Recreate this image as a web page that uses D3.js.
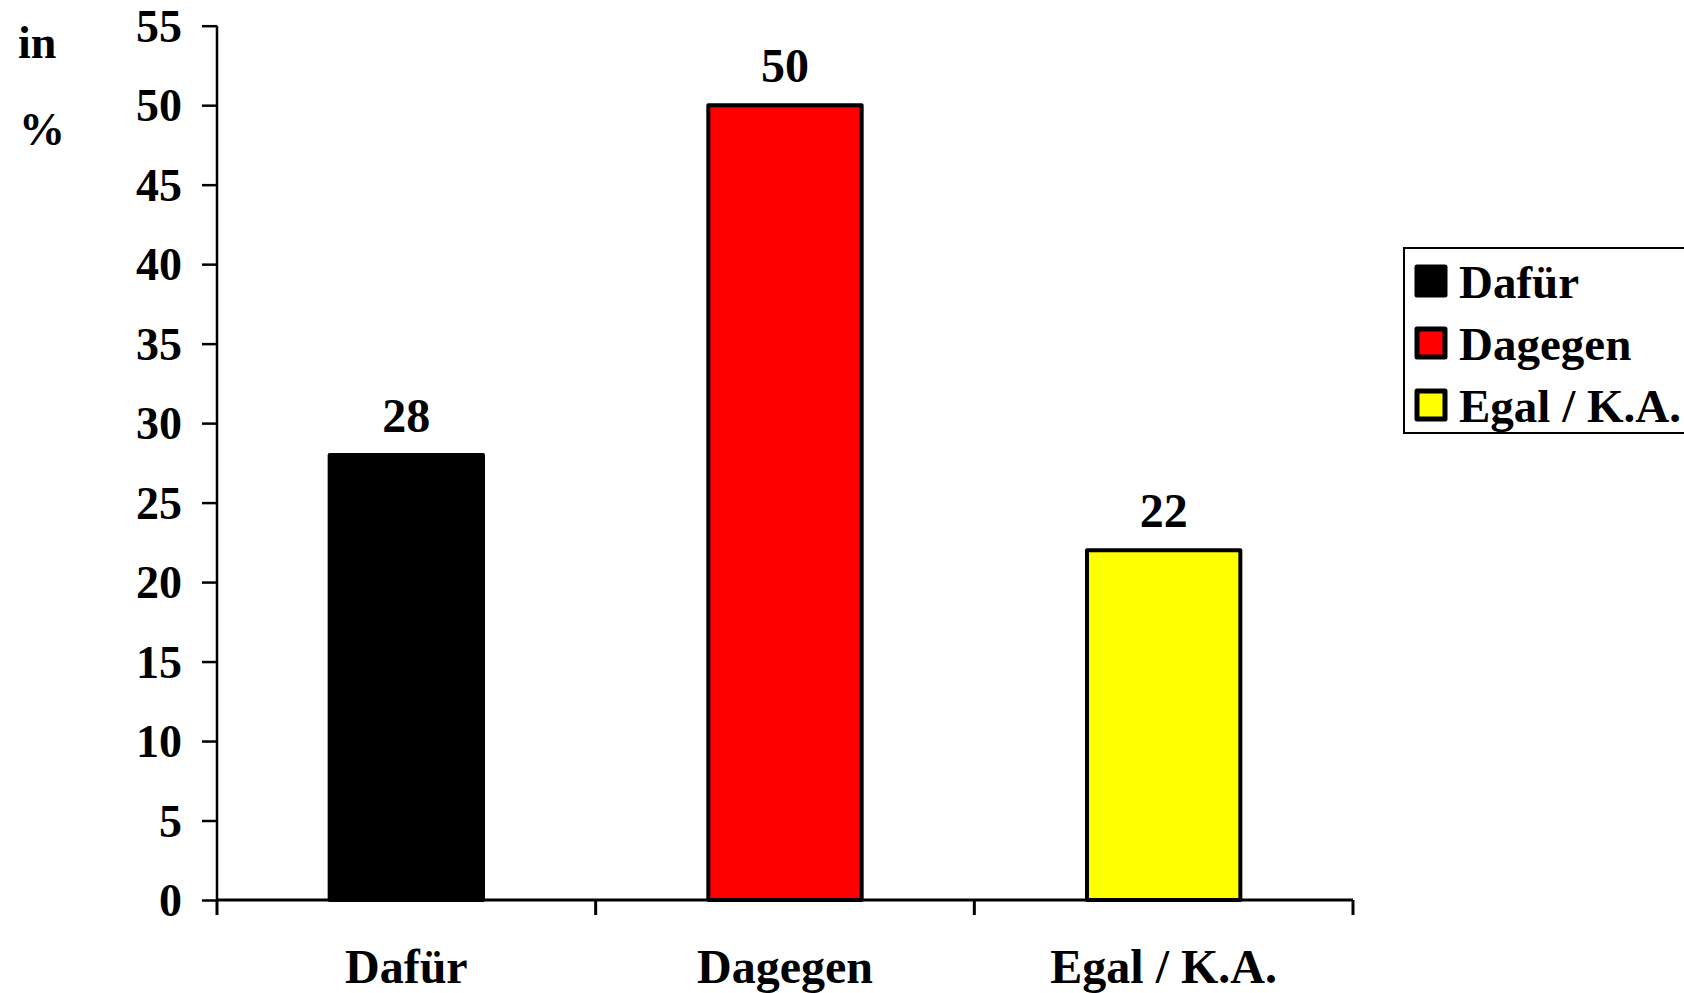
<!DOCTYPE html>
<html><head><meta charset="utf-8">
<script src="https://cdn.jsdelivr.net/npm/d3@7"></script>
<style>body{margin:0;background:#fff}svg{display:block}text{font-family:"Liberation Serif","Times New Roman",serif;font-weight:bold;fill:#000}</style>
</head><body><svg id="c" width="1684" height="993"></svg>
<script>
const categories = ["Dafür", "Dagegen", "Egal / K.A."];
const values = [28, 50, 22];
const colors = ["#000000", "#ff0000", "#ffff00"];
const yTicks = [0, 5, 10, 15, 20, 25, 30, 35, 40, 45, 50, 55];
const yLabelLines = ["in", "%"];

const svg = d3.select("#c");
const x = d3.scaleBand().domain(categories).range([217, 1353]).padding(0);
const y = d3.scaleLinear().domain([0, 55]).range([900, 25.7]);
const barW = x.bandwidth() * 0.405;

// y axis
const yAxis = svg.append("g").attr("transform", "translate(217,0)")
  .call(d3.axisLeft(y).tickValues(yTicks).tickSize(15).tickPadding(20).tickFormat(d3.format("d")));
yAxis.select(".domain").attr("stroke", "#000").attr("stroke-width", 2.5).attr("d", `M0,${y(55)}V${y(0)}`);
yAxis.selectAll(".tick line").attr("stroke", "#000").attr("stroke-width", 2.5);
yAxis.selectAll(".tick text").attr("font-size", 46).attr("font-family", '"Liberation Serif",serif').attr("font-weight", "bold").attr("fill", "#000").attr("dy", "0.34em");

// bars
svg.selectAll("rect.bar").data(categories).enter().append("rect")
  .attr("class", "bar")
  .attr("x", d => x(d) + (x.bandwidth() - barW) / 2)
  .attr("width", barW)
  .attr("y", (d, i) => y(values[i]))
  .attr("height", (d, i) => y(0) - y(values[i]))
  .attr("fill", (d, i) => colors[i])
  .attr("stroke", "#000").attr("stroke-width", 4).attr("stroke-linejoin", "round");

// value labels
svg.selectAll("text.val").data(categories).enter().append("text")
  .attr("class", "val")
  .attr("x", d => x(d) + x.bandwidth() / 2)
  .attr("y", (d, i) => y(values[i]) - 23)
  .attr("text-anchor", "middle").attr("font-size", 48)
  .text((d, i) => values[i]);

// x axis
const xAxis = svg.append("g").attr("transform", "translate(0,900)");
xAxis.append("line").attr("x1", 217).attr("x2", 1353).attr("y1", 0).attr("y2", 0).attr("stroke", "#000").attr("stroke-width", 3);
const bounds = categories.map(c => x(c)).concat([x(categories[categories.length - 1]) + x.bandwidth()]);
xAxis.selectAll("line.t").data(bounds).enter().append("line")
  .attr("x1", d => d).attr("x2", d => d).attr("y1", 0).attr("y2", 15)
  .attr("stroke", "#000").attr("stroke-width", 3);
xAxis.selectAll("text").data(categories).enter().append("text")
  .attr("x", d => x(d) + x.bandwidth() / 2).attr("y", 83)
  .attr("text-anchor", "middle").attr("font-size", 48).text(d => d);

// y label
svg.append("text").attr("x", 18).attr("y", 58).attr("font-size", 46).text(yLabelLines[0]);
svg.append("text").attr("x", 19).attr("y", 145).attr("font-size", 46).text(yLabelLines[1]);

// legend
const lg = svg.append("g");
lg.append("rect").attr("x", 1404).attr("y", 248).attr("width", 300).attr("height", 185)
  .attr("fill", "none").attr("stroke", "#000").attr("stroke-width", 2);
categories.forEach((c, i) => {
  const yy = 267 + i * 62;
  lg.append("rect").attr("x", 1417).attr("y", yy).attr("width", 28).attr("height", 28)
    .attr("fill", colors[i]).attr("stroke", "#000").attr("stroke-width", 5).attr("stroke-linejoin", "round");
  lg.append("text").attr("x", 1459).attr("y", yy + 31).attr("font-size", 47).text(c);
});
</script></body></html>
